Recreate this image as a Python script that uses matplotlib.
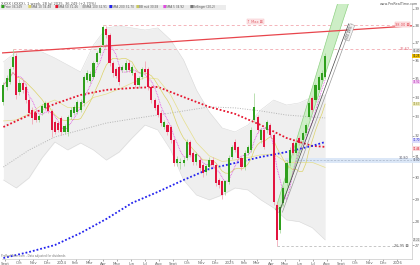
import numpy as np
import pandas as pd
import matplotlib
matplotlib.use("Agg")
import matplotlib.pyplot as plt
import matplotlib.dates as mdates
from matplotlib.ticker import FixedLocator, NullLocator, FuncFormatter
from matplotlib.transforms import blended_transform_factory

# weekly candles
dates = pd.date_range("2023-08-28", periods=101, freq="W-MON")
opens = [33.74, 34.54, 34.81, 35.63, 36.25, 34.27, 34.75, 34.54, 33.84, 33.32,
         33.17, 32.81, 33.17, 33.43, 33.64, 33.27, 32.70, 32.65, 32.91, 32.20,
         32.20, 32.96, 33.17, 33.22, 33.32, 33.69, 34.91, 34.85, 35.08, 35.91,
         36.41, 36.87, 37.80, 37.45, 35.85, 35.47, 35.63, 35.47, 35.47, 35.85,
         35.30, 35.30, 34.64, 35.08, 35.47, 35.52, 34.54, 33.84, 33.58, 33.17,
         32.45, 32.55, 32.45, 31.80, 30.68, 30.68, 30.68, 30.92, 31.70, 31.16,
         30.73, 30.82, 30.58, 30.25, 30.49, 30.82, 30.58, 29.88, 29.79, 29.33,
         29.79, 30.97, 31.70, 31.41, 30.92, 30.49, 31.16, 31.31, 32.81, 32.96,
         31.80, 32.30, 32.30, 32.55, 32.05, 28.74, 27.65, 28.83, 29.74, 30.68,
         31.65, 31.16, 31.90, 31.80, 32.15, 32.96, 33.95, 33.84, 34.38, 34.91,
         35.08]
closes = [34.64, 35.02, 35.47, 36.19, 34.11, 34.75, 34.38, 33.84, 33.17, 32.91,
          32.81, 33.01, 33.53, 33.69, 33.27, 32.30, 32.20, 32.30, 32.20, 32.50,
          32.96, 33.32, 33.48, 33.74, 33.74, 35.08, 35.30, 35.20, 35.85, 36.41,
          36.70, 37.92, 37.45, 35.85, 35.30, 35.13, 34.81, 35.63, 35.85, 35.47,
          35.63, 34.64, 35.02, 35.47, 35.36, 34.54, 33.84, 33.43, 33.06, 32.65,
          32.70, 32.20, 31.80, 30.68, 30.87, 30.73, 30.82, 31.70, 31.07, 30.73,
          31.07, 30.44, 30.21, 30.54, 30.82, 30.58, 29.74, 29.65, 29.19, 29.79,
          30.92, 31.41, 31.31, 30.92, 30.49, 31.16, 31.41, 32.30, 33.48, 32.30,
          32.30, 31.46, 32.70, 32.05, 28.88, 27.22, 28.65, 29.51, 30.68, 31.31,
          31.16, 31.65, 31.65, 32.15, 32.55, 33.69, 33.32, 34.64, 35.08, 35.30,
          36.25]
highs = [34.80, 35.20, 35.60, 36.62, 36.40, 34.95, 34.90, 34.70, 33.95, 33.45,
         33.30, 33.10, 33.65, 33.80, 33.75, 33.35, 32.80, 32.75, 33.00, 32.60,
         33.05, 33.45, 33.60, 33.85, 33.90, 35.20, 35.45, 35.40, 35.95, 36.55,
         36.85, 38.04, 37.95, 37.55, 35.95, 35.60, 35.75, 35.75, 36.00, 36.00,
         35.75, 35.40, 35.15, 35.60, 35.95, 35.65, 34.65, 33.95, 33.70, 33.30,
         32.80, 32.65, 32.55, 31.90, 31.00, 30.90, 30.95, 31.85, 31.80, 31.25,
         31.20, 30.95, 30.70, 30.65, 30.95, 30.95, 30.70, 29.95, 29.90, 29.90,
         31.05, 31.55, 31.85, 31.50, 31.00, 31.30, 31.55, 32.45, 34.20, 33.05,
         32.40, 32.40, 32.80, 32.65, 32.15, 28.85, 28.75, 29.60, 30.80, 31.45,
         31.75, 31.75, 32.00, 32.25, 32.65, 33.80, 34.05, 34.75, 35.20, 35.45,
         36.40]
lows = [33.60, 34.40, 34.70, 35.50, 33.90, 34.10, 34.20, 33.70, 33.00, 32.60,
        32.70, 32.70, 33.05, 33.30, 33.15, 31.95, 32.10, 32.20, 32.05, 32.10,
        32.00, 32.85, 33.05, 33.10, 33.20, 33.55, 34.80, 34.75, 34.95, 35.80,
        36.30, 36.75, 37.30, 35.70, 35.10, 35.00, 34.65, 35.35, 35.35, 35.35,
        35.20, 34.50, 34.50, 34.95, 35.25, 34.40, 33.70, 33.30, 32.95, 32.50,
        32.35, 32.05, 31.65, 30.55, 30.55, 30.40, 30.55, 30.80, 30.95, 30.60,
        30.60, 30.30, 30.00, 30.10, 30.35, 30.45, 29.60, 29.50, 29.00, 29.20,
        29.70, 30.85, 31.20, 30.80, 30.35, 30.35, 31.05, 31.20, 32.70, 32.15,
        31.65, 31.35, 32.15, 31.95, 28.75, 26.95, 27.50, 28.70, 29.60, 30.55,
        31.05, 31.05, 31.55, 31.70, 32.05, 32.85, 33.20, 33.75, 34.25, 34.80,
        34.95]

# long moving averages, read every 8 weeks
ma_idx = [0, 8, 16, 24, 32, 40, 48, 56, 64, 72, 80, 88, 96, 100]
sma_blue = [26.46, 26.71, 27.00, 27.51, 28.12, 28.83, 29.33, 29.88, 30.40, 30.68,
            30.97, 31.21, 31.51, 31.70]
sma_red = [32.45, 33.06, 33.64, 34.11, 34.38, 34.48, 34.54, 34.00, 33.48, 33.12,
           32.55, 31.90, 31.51, 31.46]
sma_gray = [30.49, 31.31, 31.95, 32.30, 32.65, 32.86, 33.06, 33.27, 33.48, 33.43,
            33.27, 33.06, 32.96, 32.91]

# bollinger envelope, read every 4 weeks
bb_idx = [0, 4, 8, 12, 16, 20, 24, 28, 32, 36, 40, 44, 48, 52, 56, 60, 64, 68,
          72, 76, 80, 84, 88, 92, 96, 100]
bb_upper = [35.91, 36.47, 36.59, 36.47, 36.13, 35.74, 35.35, 36.87, 37.86, 37.98,
            37.86, 37.74, 37.86, 37.16, 36.02, 34.38, 33.22, 32.40, 32.20, 32.55,
            33.32, 33.84, 33.58, 33.69, 34.00, 34.11]
bb_lower = [29.88, 29.51, 29.98, 30.92, 31.70, 31.31, 31.65, 31.31, 30.82, 31.21,
            31.90, 32.55, 32.30, 31.31, 29.88, 29.19, 28.97, 29.19, 29.51, 29.42,
            28.97, 28.61, 28.08, 28.00, 27.74, 27.22]

# drawn objects
trend_dates = ["2023-08-21", "2026-02-02"]
trend_prices = [36.41, 37.99]
wedge_dates = ["2025-04-11", "2025-08-27", "2025-09-20", "2025-04-24"]
wedge_prices = [28.52, 39.60, 39.60, 28.61]
chan_dates = ["2025-04-19", "2025-09-17"]
chan_dates2 = ["2025-04-26", "2025-09-24"]
chan_prices = [28.42, 38.10]
support_level = 30.80
y_ticks = [27, 28, 29, 30, 31, 32, 33, 34, 35, 36, 37, 38, 39]

GREEN, RED = "#2e9f1c", "#e2143f"

fig = plt.figure(figsize=(4.2, 2.65), dpi=100)
ax = fig.add_axes([2 / 420, 6 / 265, 410 / 420, 255 / 265])
ax.set_yscale("log")
x0, x1 = pd.Timestamp("2023-08-25"), pd.Timestamp("2026-02-02")
ax.set_xlim(x0, x1)
ax.set_ylim(26.42, 39.30)

o, c, h, l = map(np.array, (opens, closes, highs, lows))

# bollinger band
bx = dates[bb_idx]
up, lo = np.array(bb_upper), np.array(bb_lower)
ax.fill_between(bx, lo, up, color="#efefef", lw=0, zorder=0)
ax.plot(bx, up, color="#d9d9d9", lw=0.4, zorder=0.5)
ax.plot(bx, lo, color="#d9d9d9", lw=0.4, zorder=0.5)
ax.plot(bx, np.sqrt(up * lo), color="#e6df8c", lw=0.5, zorder=1)

# horizontal levels
sup_start = pd.Timestamp("2025-05-02")
xfrac = (mdates.date2num(sup_start) - mdates.date2num(x0)) / (mdates.date2num(x1) - mdates.date2num(x0))
ax.axhspan(30.68, 30.92, xmin=xfrac, xmax=1, color="#dbe7f7", lw=0, zorder=0.6)
ax.hlines(support_level, sup_start, x1, color="#aab6c8", lw=0.5, ls=(0, (3, 2)), zorder=0.7)
ax.hlines(highs[31], dates[31], x1, color="#f4b4ba", lw=0.7, ls=(0, (3, 2.5)), zorder=0.7)
ax.hlines(highs[3], dates[3], x1, color="#f4b4ba", lw=0.7, ls=(0, (3, 2.5)), zorder=0.7)
ax.hlines(lows[85], dates[85], pd.Timestamp("2026-01-04"), color="#bdbdbd", lw=0.6,
          ls=(0, (3, 2.5)), zorder=0.7)

# channel
ax.fill(pd.to_datetime(wedge_dates), wedge_prices, color="#cdeec6", ec="#8fd283", lw=0.5, zorder=0.8)
ax.plot(pd.to_datetime(chan_dates), chan_prices, color="#444444", lw=0.5, zorder=3)
ax.plot(pd.to_datetime(chan_dates2), chan_prices, color="#9a9a9a", lw=0.5, zorder=3)

# moving averages
mx = dates[ma_idx]
ax.plot(mx, sma_gray, color="#b4b4b4", lw=0.7, ls=(0, (1, 1.5)), zorder=1.2)
ax.plot(mx, sma_red, color="#e6162f", lw=1.3, ls=(0, (1, 1.1)), zorder=1.3)
ax.plot(mx, sma_blue, color="#2222ee", lw=1.3, ls=(0, (1, 1.1)), zorder=1.3)
ma5 = pd.Series(closes).rolling(5, min_periods=1).mean()
ma10 = pd.Series(closes).rolling(10, min_periods=1).mean()
ax.plot(dates, ma10, color="#dcd36a", lw=0.5, zorder=1.4)
ax.plot(dates, ma5, color="#e04ce0", lw=0.6, ls=(0, (1, 1)), zorder=1.4)

# trend line
ax.plot(pd.to_datetime(trend_dates), trend_prices, color="#e8454c", lw=0.9, zorder=2)

# candles
up_mask = c >= o
wick_col = np.where(up_mask, "#9fd393", "#f29aab")
ax.vlines(dates, l, h, colors=wick_col, lw=0.5, zorder=2.5)
ax.bar(dates, np.abs(c - o) + 0.02, bottom=np.minimum(o, c), width=4.6,
       color=np.where(up_mask, GREEN, RED), lw=0, zorder=2.6)

# annotations on the chart
tr = blended_transform_factory(ax.transAxes, ax.transData)
ax.text(pd.Timestamp("2025-02-26"), 38.12, "↑ Max ⊠", fontsize=2.6, color="#e0606a",
        ha="center", va="bottom", bbox=dict(boxstyle="square,pad=0.15", fc="#fde8ea", ec="#f4b4ba", lw=0.3))
ax.text(0.995, 38.05, "38.00 ⊠", transform=tr, fontsize=2.6, color="#e0404a", ha="right", va="center",
        bbox=dict(boxstyle="square,pad=0.15", fc="#fde8ea", ec="#f4a4aa", lw=0.3))
ax.text(0.995, highs[3], "%.2f" % highs[3], transform=tr, fontsize=2.6, color="#e06070",
        ha="right", va="center")
ax.text(0.992, lows[85], "%.2f ⊠" % lows[85], transform=tr, fontsize=2.6, color="#555555",
        ha="right", va="center")
ax.text(0.99, support_level + 0.12, "%.2f" % support_level, transform=tr, fontsize=2.4, color="#556",
        ha="right", va="center")
ax.text(pd.Timestamp("2025-09-19"), 37.6, "+33.18%", fontsize=2.4, color="#444444", rotation=70,
        ha="center", va="center", bbox=dict(boxstyle="square,pad=0.15", fc="#f2f2f2", ec="#888888", lw=0.3))

# axes styling
for s in ("top", "left"):
    ax.spines[s].set_visible(False)
for s in ("right", "bottom"):
    ax.spines[s].set_color("#c8c8c8")
    ax.spines[s].set_linewidth(0.5)
ax.yaxis.tick_right()
ax.yaxis.set_major_locator(FixedLocator(y_ticks))
ax.yaxis.set_minor_locator(NullLocator())
ax.yaxis.set_major_formatter(FuncFormatter(lambda v, p: "%g" % v))
ax.tick_params(axis="y", labelsize=2.8, colors="#666666", length=1.2, width=0.4, pad=0.8)

month_ticks = pd.date_range("2023-09-01", "2026-01-01", freq="MS")
def month_label(v, pos):
    t = mdates.num2date(v)
    if t.month == 1:
        return str(t.year)
    return "Sept" if t.month == 9 else t.strftime("%b")
ax.xaxis.set_major_locator(FixedLocator(mdates.date2num(month_ticks)))
ax.xaxis.set_major_formatter(FuncFormatter(month_label))
ax.tick_params(axis="x", labelsize=2.8, colors="#666666", length=1.2, width=0.4, pad=0.6)

# value tags on the price scale
def tag(y, txt, fc, tc="#333333"):
    ax.text(1.001, y, txt, transform=tr, fontsize=1.9, color=tc, va="center", ha="left",
            bbox=dict(boxstyle="square,pad=0.08", fc=fc, ec="none"), clip_on=False, zorder=5)

tag(36.55, "%.2f" % highs[-1], "#e4e4e4", "#555555")
tag(closes[-1], "%.2f" % closes[-1], "#f2c200", "#222222")
tag(34.81, "%.2f" % ma5.iloc[-1], "#f4d2f4", "#b020b0")
tag(ma10.iloc[-1], "%.2f" % ma10.iloc[-1], "#eeecc0", "#8a8420")
tag(sma_blue[-1] + 0.08, "%.2f" % sma_blue[-1], "#dcdcfb", "#2222cc")
tag(sma_red[-1] - 0.08, "%.2f" % sma_red[-1], "#fadadd", "#d01020")
tag(support_level, "%.2f" % support_level, "#dbe7f7", "#445")
tag(bb_lower[-1], "%.2f" % bb_lower[-1], "#e8e8e8", "#666666")

# header
fig.text(0.003, 0.994, "XXXX (XXXX), 1 week, 28 Jul 2025, 36.249 (+2.70%)", fontsize=2.6,
         color="#555555", va="top", ha="left")
leg = [("Price 36.249", GREEN), ("SMA 10 34.48", "#dcd36a"), ("SMA 50 31.46", "#e6162f"),
       ("SMA 100 32.91", "#b4b4b4"), ("SMA 200 31.70", "#2222ee"), ("BB mid 30.58", "#c8c860"),
       ("SMA 5 34.92", "#e04ce0"), ("Bollinger (20,2)", "#777777")]
fig.patches.append(plt.Rectangle((0, 1 - 9.5 / 265), 226 / 420, 4.5 / 265, transform=fig.transFigure,
                                 fc="#ececec", ec="none", zorder=0))
for k, (name, col) in enumerate(leg):
    xx = (1 + k * 27) / 420
    fig.text(xx, 1 - 7.2 / 265, "■", fontsize=2.6, color=col, va="center", ha="left")
    fig.text(xx + 3 / 420, 1 - 7.2 / 265, name, fontsize=2.1, color="#555555", va="center", ha="left")
fig.text(0.995, 0.994, "www.ProRealTime.com", fontsize=2.4, color="#555555", va="top", ha="right")
fig.text(0.003, 6.5 / 265, "ProRealTime.com - Data adjusted for dividends", fontsize=2.0,
         color="#777777", va="bottom", ha="left")

fig.savefig("out.png", dpi=100)
